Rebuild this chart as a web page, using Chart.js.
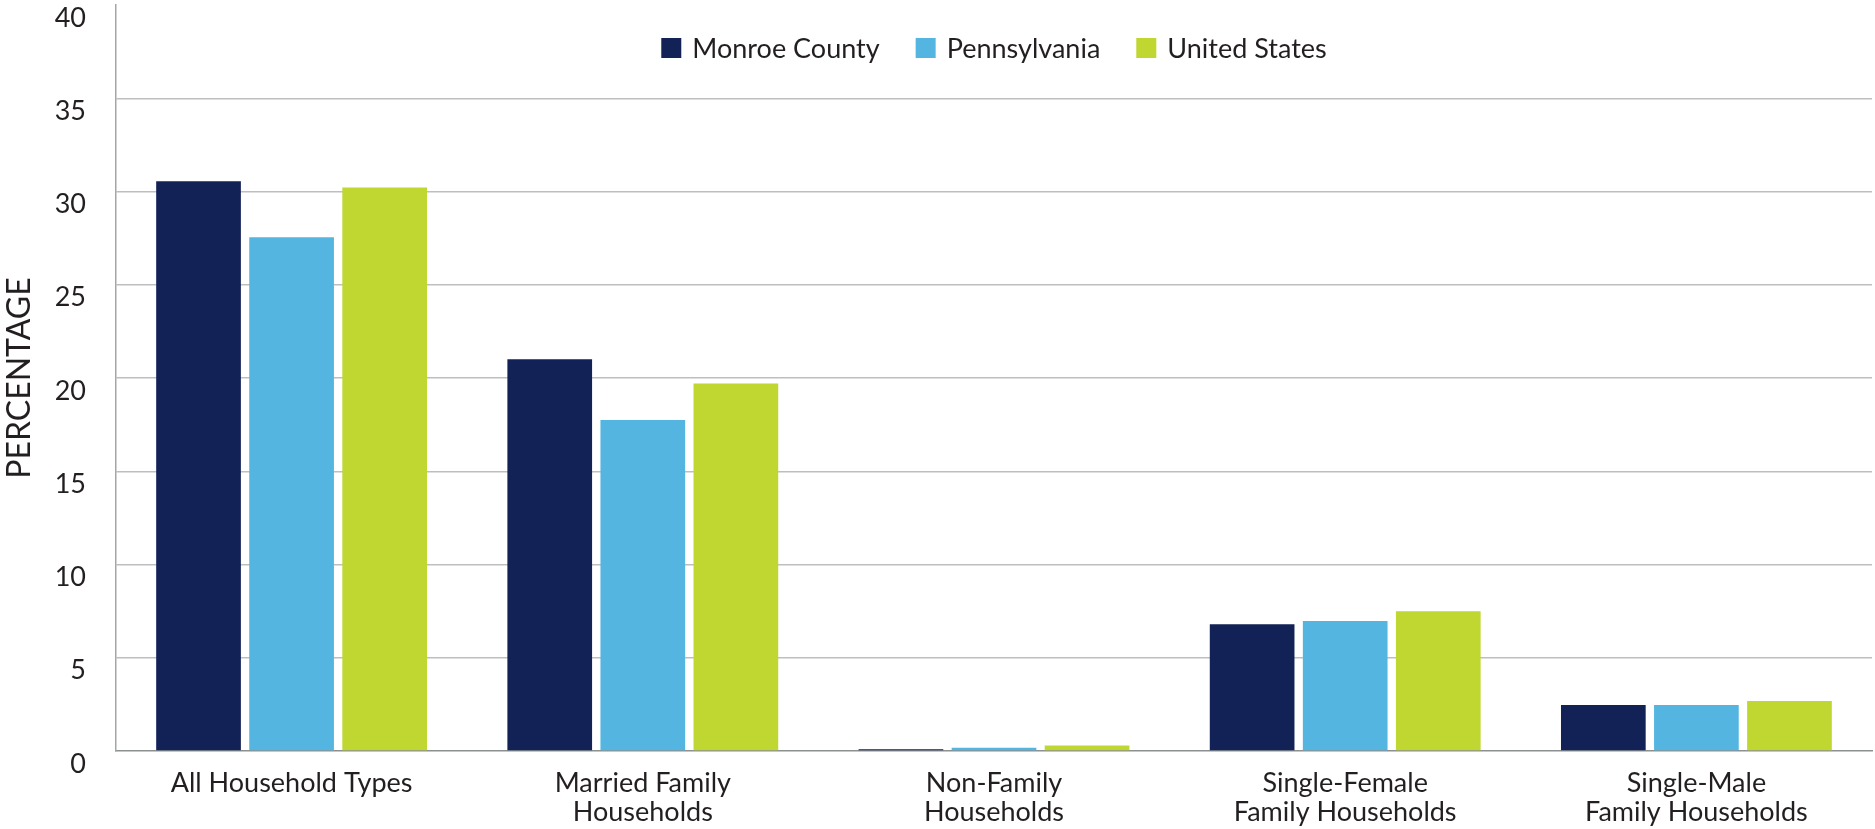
<!DOCTYPE html>
<html>
<head>
<meta charset="utf-8">
<style>
  html, body { margin: 0; padding: 0; background: #fff; }
  #wrap { width: 1875px; height: 829px; }
</style>
<script src="https://cdn.jsdelivr.net/npm/chart.js@4/dist/chart.umd.min.js"></script>
</head>
<body>
<div id="wrap"><canvas id="chart" width="1875" height="829"></canvas></div>
<script>
// household types, percent of households
var categories = [
    "All Household Types",
    ["Married Family", "Households"],
    ["Non-Family", "Households"],
    ["Single-Female", "Family Households"],
    ["Single-Male", "Family Households"]
];
var monroe = [30.55, 21.0, 0.1, 6.8, 2.47];
var penn = [27.55, 17.75, 0.18, 6.97, 2.47];
var us = [30.22, 19.7, 0.3, 7.5, 2.68];
var yTicks = [0, 5, 10, 15, 20, 25, 30, 35, 40];

var textColor = "#231f20";
var font = "Lato, 'Open Sans', sans-serif";

// legend sits inside the plot, so draw it by hand
var insideLegend = {
    id: "insideLegend",
    afterDraw: function(chart) {
        var ctx = chart.ctx;
        var sets = chart.data.datasets;
        var box = 20, gap = 11, spacing = 36, y = 48;
        ctx.save();
        ctx.font = "27px " + font;
        var total = 0;
        var widths = sets.map(function(d) { return ctx.measureText(d.label).width; });
        widths.forEach(function(w) { total += box + gap + w; });
        total += spacing * (sets.length - 1);
        var area = chart.chartArea;
        var x = (area.left + area.right) / 2 - total / 2;
        ctx.textBaseline = "middle";
        ctx.textAlign = "left";
        sets.forEach(function(d, i) {
            ctx.fillStyle = d.backgroundColor;
            ctx.fillRect(x, y - box / 2, box, box);
            ctx.fillStyle = textColor;
            ctx.fillText(d.label, x + box + gap, y + 1);
            x += box + gap + widths[i] + spacing;
        });
        ctx.restore();
    }
};

new Chart(document.getElementById("chart"), {
    type: "bar",
    data: {
        labels: categories,
        datasets: [
            { label: "Monroe County", data: monroe, backgroundColor: "#132256" },
            { label: "Pennsylvania", data: penn, backgroundColor: "#54b6e0" },
            { label: "United States", data: us, backgroundColor: "#bfd730" }
        ]
    },
    plugins: [insideLegend],
    options: {
        responsive: false,
        animation: false,
        layout: { padding: { top: 5, right: 3, left: 0, bottom: 0 } },
        datasets: {
            bar: { categoryPercentage: 0.795, barPercentage: 0.91 }
        },
        plugins: {
            tooltip: { enabled: false },
            legend: { display: false }
        },
        scales: {
            x: {
                grid: { display: false, drawTicks: false },
                border: { color: "#8c9090", width: 1.5 },
                ticks: {
                    color: textColor,
                    font: { family: font, size: 27, lineHeight: 1.1 },
                    padding: 17,
                    maxRotation: 0,
                    autoSkip: false
                },
                afterFit: function(s) { s.height = 78; }
            },
            y: {
                min: 0,
                max: 40,
                afterBuildTicks: function(s) {
                    s.ticks = yTicks.map(function(v) { return { value: v }; });
                },
                grid: {
                    drawTicks: false,
                    lineWidth: 1.5,
                    color: function(c) {
                        return (c.tick && (c.tick.value === 40 || c.tick.value === 0)) ? "rgba(0,0,0,0)" : "#bdbfbf";
                    }
                },
                border: { color: "#a3a7a7", width: 1.5 },
                ticks: {
                    color: textColor,
                    font: { family: font, size: 27 },
                    padding: 30,
                    labelOffset: 13
                },
                title: {
                    display: true,
                    text: "PERCENTAGE",
                    color: textColor,
                    font: { family: font, size: 32 },
                    padding: 0
                },
                afterFit: function(s) {
                    s.width = 116;
                    s.paddingTop = 0;
                    s.paddingBottom = 0;
                }
            }
        }
    }
});
</script>
</body>
</html>
